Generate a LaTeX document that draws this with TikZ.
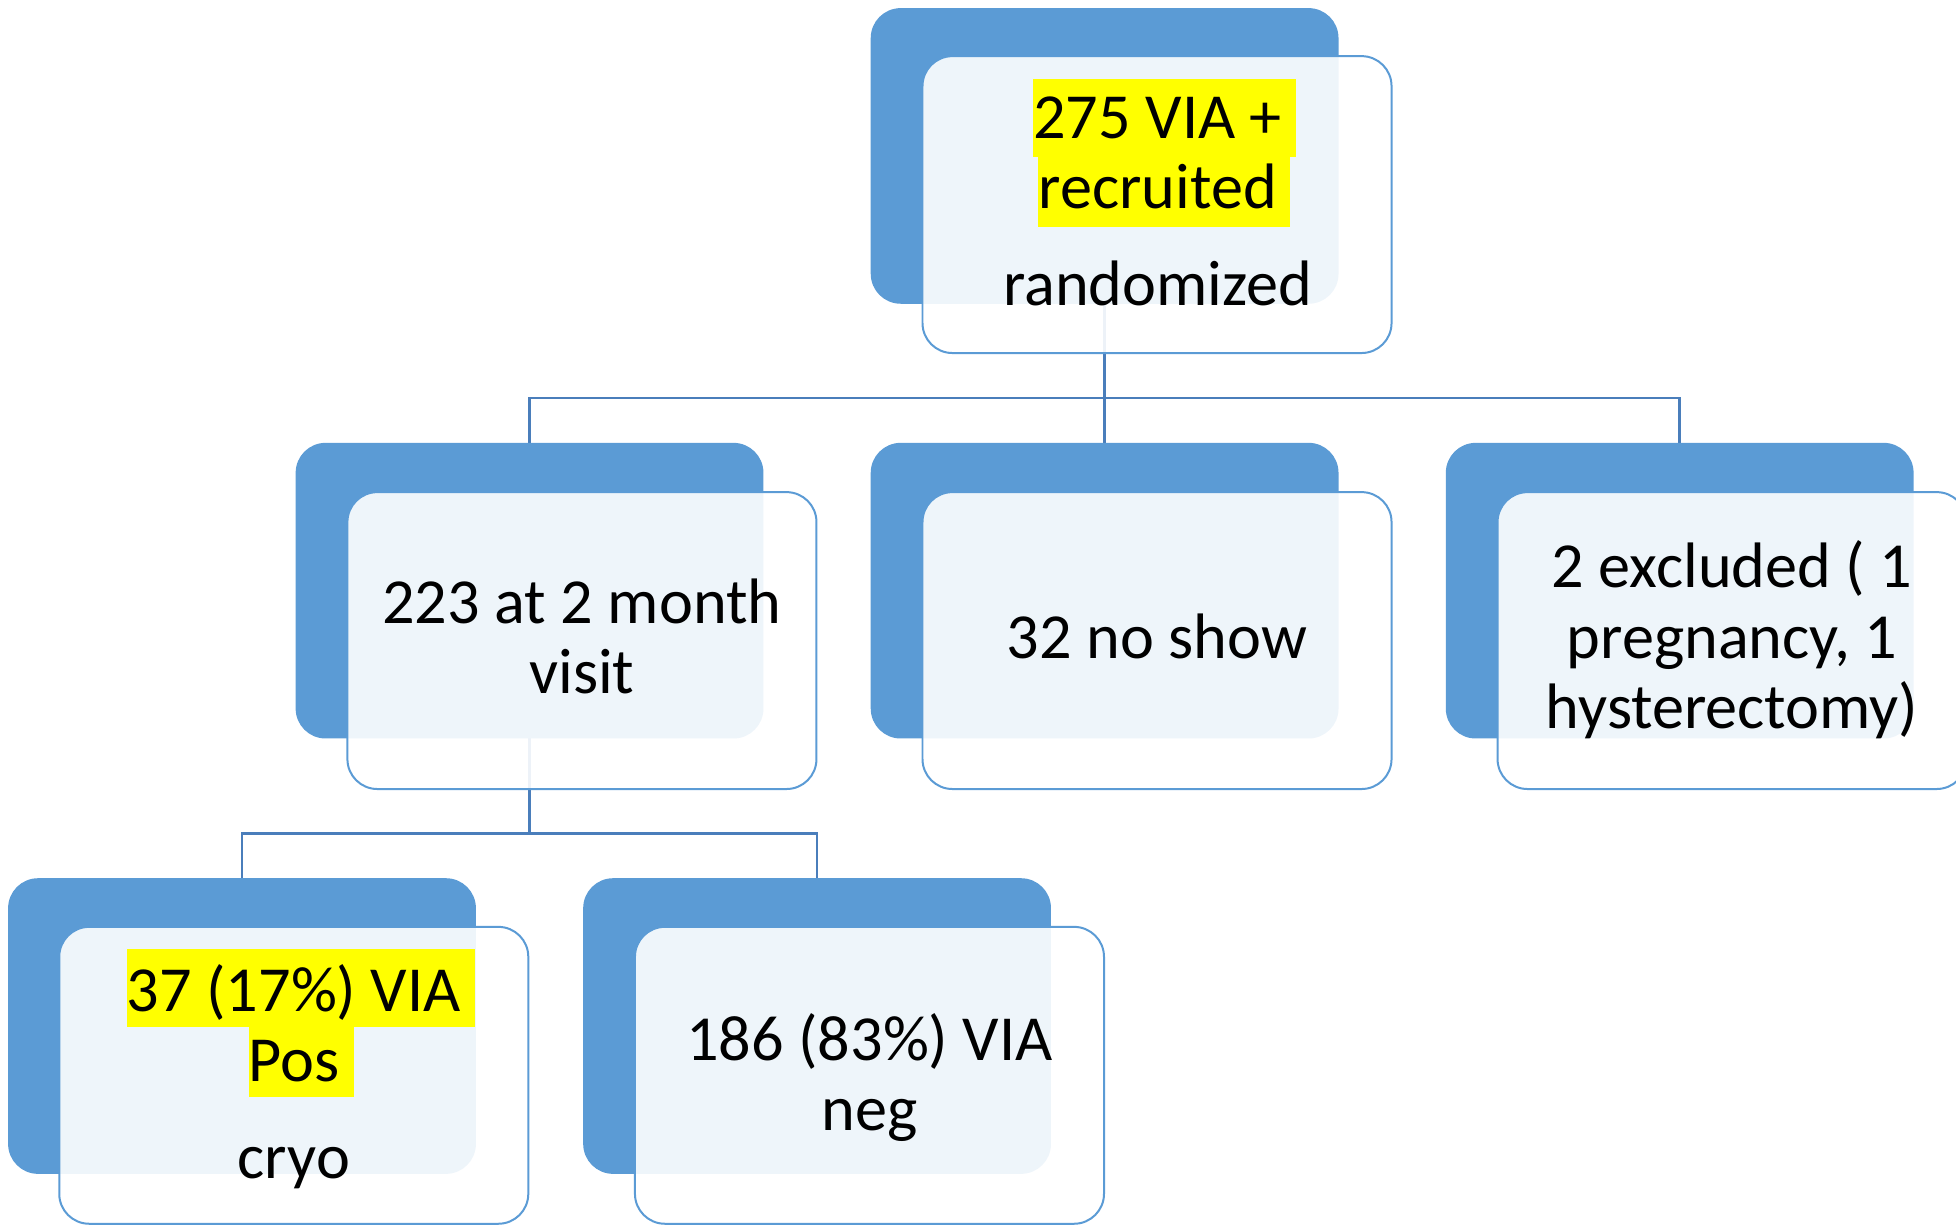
\documentclass[tikz,border=0pt]{standalone}
\usepackage{fontspec}
\setmainfont{Carlito}
\definecolor{accblue}{HTML}{5B9BD5}
\definecolor{linkblue}{HTML}{4A7EBB}
\definecolor{hlyellow}{HTML}{FFFF00}
\begin{document}
\begin{tikzpicture}[x=1pt,y=-1pt,
  back/.style={fill=accblue, draw=none, rounded corners=24pt, minimum width=375pt, minimum height=237pt, inner sep=0pt, outer sep=0pt},
  front/.style={draw=accblue, line width=1.6pt, fill=white, fill opacity=0.9, rounded corners=24pt, minimum width=376pt, minimum height=238pt, inner sep=0pt, outer sep=0pt},
  link/.style={draw=linkblue, line width=2.1pt},
  hlbox/.style={fill=hlyellow, draw=none, inner sep=0pt, outer sep=0pt},
  txt/.style={font=\fontsize{51.5}{56}\selectfont, anchor=base, inner sep=0pt, text=black}
]
\useasboundingbox (0,0) rectangle (1568,982);

% junction coordinates
\coordinate (j1) at (885.5,319);
\coordinate (j2) at (424.5,668);

% back (blue) boxes positions
\path (885.5,125) coordinate (pb1)
      (424.5,473.5) coordinate (pb2)
      (885.5,473.5) coordinate (pb3)
      (1346.5,473.5) coordinate (pb4)
      (194,822.5) coordinate (pb5)
      (655,822.5) coordinate (pb6);

% connectors (drawn first, under the boxes)
\draw[link] (pb1) -- (pb3 |- 0,355);
\draw[link] (pb2 |- 0,355) -- (pb2 |- j1) -- (pb4 |- j1) -- (pb4 |- 0,355);
\draw[link] (pb2) -- (j2);
\draw[link] (pb5 |- 0,704) -- (pb5 |- j2) -- (pb6 |- j2) -- (pb6 |- 0,704);

% blue boxes
\node[back] (b1) at (pb1) {};
\node[back] (b2) at (pb2) {};
\node[back] (b3) at (pb3) {};
\node[back] (b4) at (pb4) {};
\node[back] (b5) at (pb5) {};
\node[back] (b6) at (pb6) {};

% front boxes
\node[front] (w1) at (927.5,164) {};
\node[front] (w2) at (466.5,513.5) {};
\node[front] (w3) at (927.5,513.5) {};
\node[front] (w4) at (1388.5,513.5) {};
\node[front] (w5) at (235.5,862) {};
\node[front] (w6) at (697,862) {};

% highlights
\node[hlbox, minimum width=211pt, minimum height=63pt] (h1) at (933.5,94.5) {};
\node[hlbox, minimum width=202pt, minimum height=56pt] (h2) at (933,154) {};
\node[hlbox, minimum width=279pt, minimum height=62pt] (h3) at (241.5,792) {};
\node[hlbox, minimum width=84pt, minimum height=56pt] (h4) at (242,851) {};

% texts
\node[txt] (t1a) at (928,111) {275 VIA +};
\node[txt] (t1b) at (928,167) {recruited};
\node[txt] (t1c) at (928,245) {randomized};

\node[txt] (t2a) at (466.5,500) {223 at 2 month};
\node[txt] (t2b) at (466.5,556) {visit};

\node[txt] (t3a) at (927.5,528) {32 no show};

\node[txt] (t4a) at (1388.5,471) {2 excluded ( 1};
\node[txt] (t4b) at (1388.5,528) {pregnancy, 1};
\node[txt] (t4c) at (1388.5,584) {hysterectomy)};

\node[txt] (t5a) at (235.5,811) {37 (17\%) VIA};
\node[txt] (t5b) at (235.5,867) {Pos};
\node[txt] (t5c) at (235.5,945) {cryo};

\node[txt] (t6a) at (697,850) {186 (83\%) VIA};
\node[txt] (t6b) at (697,906) {neg};
\end{tikzpicture}
\end{document}
